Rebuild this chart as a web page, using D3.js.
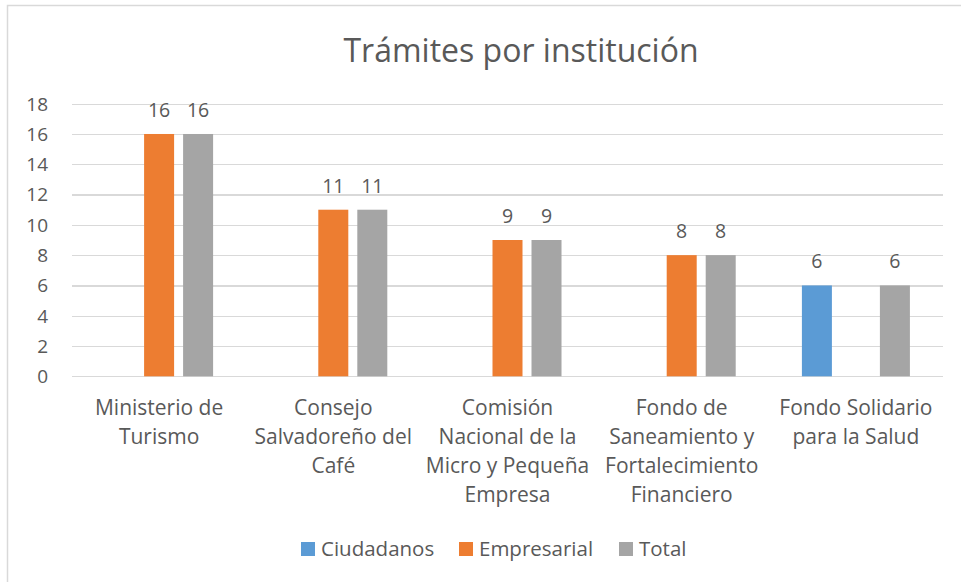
<!DOCTYPE html>
<html lang="es">
	<head>
		<meta charset="utf-8">
		<title>Trámites por institución</title>
		<style>
			body { margin: 0; background: #fff; }
			svg { font-family: "Open Sans", Lato, sans-serif; }
			.grid line { stroke: #d9d9d9; stroke-width: 1.3; shape-rendering: crispEdges; }
			.grid path { display: none; }
			text { fill: #595959; }
		</style>
	</head>
	<body>
		<div id="container"></div>
		<script src="https://cdnjs.cloudflare.com/ajax/libs/d3/7.8.5/d3.min.js"></script>
		<script>
			// Data
			var categories = [
				["Ministerio de", "Turismo"],
				["Consejo", "Salvadoreño del", "Café"],
				["Comisión", "Nacional de la", "Micro y Pequeña", "Empresa"],
				["Fondo de", "Saneamiento y", "Fortalecimiento", "Financiero"],
				["Fondo Solidario", "para la Salud"]
			];
			var seriesNames = ["Ciudadanos", "Empresarial", "Total"];
			var ciudadanos = [0, 0, 0, 0, 6];
			var empresarial = [16, 11, 9, 8, 0];
			var total = [16, 11, 9, 8, 6];
			var yTicks = [0, 2, 4, 6, 8, 10, 12, 14, 16, 18];
			var colors = ["#5b9bd5", "#ed7d31", "#a5a5a5"];

			var W = 961, H = 582;
			var margin = {top: 103.7, right: 18, left: 72};
			var width = W - margin.left - margin.right,
				height = 376.3 - margin.top;

			var svg = d3.select("#container").append("svg")
				.attr("width", W)
				.attr("height", H);

			// chart frame (cropped at right and bottom)
			svg.append("rect")
				.attr("x", 7.5).attr("y", 5.5)
				.attr("width", W + 10).attr("height", H + 10)
				.attr("fill", "none")
				.attr("stroke", "#d9d9d9")
				.attr("stroke-width", 1.5);

			svg.append("text")
				.attr("x", 521).attr("y", 62)
				.attr("text-anchor", "middle")
				.style("font-size", "32px")
				.text("Trámites por institución");

			var chart = svg.append("g")
				.attr("transform", "translate(" + margin.left + "," + margin.top + ")");

			var x0 = d3.scaleBand().domain(d3.range(categories.length)).range([0, width]);
			var groupW = x0.bandwidth() * 0.62;
			var x1 = d3.scaleBand().domain(seriesNames)
				.range([-groupW / 2, groupW / 2]).paddingInner(9 / 39);
			var y = d3.scaleLinear().domain([0, 18]).range([height, 0]);

			// gridlines
			chart.append("g")
				.attr("class", "grid")
				.call(d3.axisLeft(y).tickValues(yTicks).tickSize(-width).tickFormat(""));

			// y tick labels
			chart.append("g")
				.selectAll("text")
				.data(yTicks)
				.join("text")
				.attr("x", -24)
				.attr("y", function(d) { return y(d); })
				.attr("dy", "0.36em")
				.attr("text-anchor", "end")
				.style("font-size", "19px")
				.text(function(d) { return d; });

			var table = categories.map(function(c, i) {
				return {i: i, values: [ciudadanos[i], empresarial[i], total[i]]};
			});

			var groups = chart.selectAll(".group")
				.data(table)
				.join("g")
				.attr("class", "group")
				.attr("transform", function(d) { return "translate(" + (x0(d.i) + x0.bandwidth() / 2) + ",0)"; });

			var cells = groups.selectAll("g.cell")
				.data(function(d) {
					return d.values.map(function(v, k) { return {name: seriesNames[k], k: k, value: v}; })
						.filter(function(e) { return e.value > 0; });
				})
				.join("g").attr("class", "cell");

			cells.append("rect")
				.attr("x", function(d) { return x1(d.name); })
				.attr("width", x1.bandwidth())
				.attr("y", function(d) { return y(d.value); })
				.attr("height", function(d) { return height - y(d.value); })
				.attr("fill", function(d) { return colors[d.k]; });

			cells.append("text")
				.attr("x", function(d) { return x1(d.name) + x1.bandwidth() / 2; })
				.attr("y", function(d) { return y(d.value) - 17; })
				.attr("text-anchor", "middle")
				.style("font-size", "19.5px")
				.text(function(d) { return d.value; });

			// category labels
			groups.append("text")
				.attr("text-anchor", "middle")
				.style("font-size", "21px")
				.selectAll("tspan")
				.data(function(d) { return categories[d.i]; })
				.join("tspan")
				.attr("x", 0)
				.attr("y", function(d, j) { return height + 39 + j * 28.8; })
				.text(function(d) { return d; });

			// legend
			var legendX = [301, 459, 619];
			var legend = svg.append("g").selectAll("g")
				.data(seriesNames)
				.join("g")
				.attr("transform", function(d, k) { return "translate(" + legendX[k] + ",542)"; });
			legend.append("rect")
				.attr("width", 14).attr("height", 14)
				.attr("fill", function(d, k) { return colors[k]; });
			legend.append("text")
				.attr("x", 20).attr("y", 14)
				.style("font-size", "20.5px")
				.text(function(d) { return d; });
		</script>
	</body>
</html>
